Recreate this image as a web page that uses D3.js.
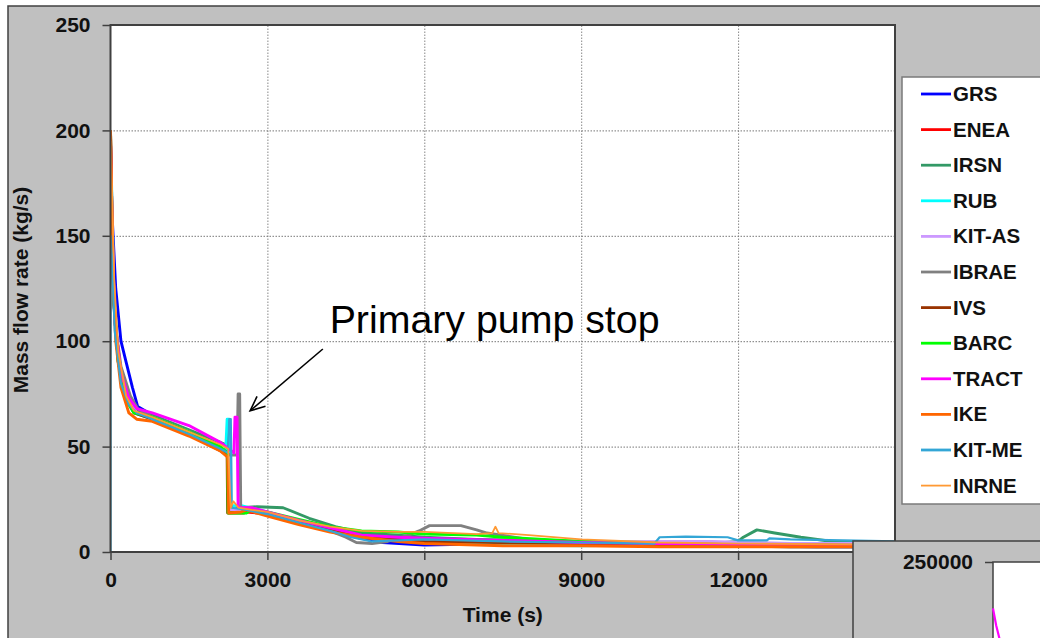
<!DOCTYPE html>
<html><head><meta charset="utf-8">
<script src="https://cdn.jsdelivr.net/npm/d3@7"></script>
<style>
body{margin:0;background:#fff}
svg{display:block}
text{font-family:"Liberation Sans",Arial,sans-serif}
</style>
</head><body>
<svg id="c" width="1040" height="638"></svg>
<script>
// ---------- data ----------
const seriesNames = ["GRS","ENEA","IRSN","RUB","KIT-AS","IBRAE","IVS","BARC","TRACT","IKE","KIT-ME","INRNE"];
const seriesColors = ["#0000ff","#ff0000","#339966","#00ffff","#cc99ff","#808080","#993300","#00ff00","#ff00ff","#ff6600","#33a6d6","#ff9933"];
const xTicks = [0,3000,6000,9000,12000];
const yTicks = [0,50,100,150,200,250];
const insetTick = [250000];

const GRS   = [[0,195],[30,160],[100,125],[200,100],[300,90],[420,78],[520,69],[800,65],[1500,57],[2100,49],[2260,46],[2290,20],[2600,20],[3000,18],[3600,14],[4200,11],[4700,7],[5200,4.5],[6000,3.3],[7500,4],[9000,3.5],[10500,3],[12000,3],[13500,2.5],[15000,2.5]];
const ENEA  = [[0,198],[20,170],[60,120],[150,90],[300,74],[450,67],[800,64],[1500,57],[2100,49],[2250,46],[2270,19],[2600,19],[3000,18],[3600,14],[4200,10.5],[4800,7],[5500,5.5],[6000,5.5],[7000,4],[9000,3.5],[10500,3],[12000,3],[15000,2.5]];
const IRSN  = [[0,190],[30,150],[80,110],[200,85],[350,72],[500,67],[800,65],[1500,58],[2100,52],[2200,51],[2230,46],[2240,62],[2260,62],[2280,20],[2500,21],[2800,21.5],[3300,21],[3800,16],[4300,12],[4800,9],[5500,8],[6000,7],[7000,6],[8000,5.5],[9000,5],[10500,4.5],[11500,4],[12000,5],[12100,7],[12360,10.5],[12700,9],[13200,7],[13800,5],[15000,4.5]];
const RUB   = [[0,200],[20,175],[60,125],[150,90],[300,72],[450,66],[800,63],[1500,56],[2100,49],[2200,47],[2230,63],[2270,63],[2290,22],[2500,22],[3000,19],[3600,14.5],[4200,11],[4700,8],[5500,6],[6000,5],[7500,3.3],[9000,3],[10500,3.5],[12000,4],[15000,4]];
const KITAS = [[0,195],[30,155],[80,110],[200,85],[350,72],[500,66],[800,64],[1500,57],[2100,49],[2260,46],[2290,20],[2600,20],[3000,18],[3600,14],[4200,11],[4800,7.5],[5500,6],[6000,5.5],[7500,5],[9000,4.5],[10500,5],[11500,5],[12000,4.7],[13000,4],[15000,4]];
const IBRAE = [[0,195],[30,150],[80,110],[200,88],[380,74],[520,68],[800,64],[1500,57],[2100,49],[2280,46],[2420,46],[2440,75],[2470,75],[2490,21],[2700,21],[3000,18.5],[3600,14],[4200,10],[4500,7],[4700,4.5],[5000,4],[5300,5],[5700,8],[5900,10],[6100,12.5],[6700,12.5],[7000,10.5],[7200,9],[8000,6],[9000,4.5],[10500,3.5],[12000,3],[13000,2.4],[15000,2.4]];
const IVS   = [[0,200],[20,170],[60,120],[150,90],[300,73],[450,66],[800,63],[1500,56],[2100,48],[2230,46],[2240,18.5],[2550,18.5],[2600,20],[3000,18],[3600,14],[4200,10.5],[4800,7.5],[5500,6],[6000,5],[7500,4.5],[9000,4],[10500,3.5],[12000,3.5],[15000,3]];
const BARC  = [[0,175],[20,160],[60,120],[150,90],[300,72],[450,66],[800,64],[1500,57],[2100,50],[2240,47],[2250,18.5],[2600,18.5],[2700,20],[3000,19],[3600,15.5],[4200,12],[4800,10],[5500,9.5],[6000,8.5],[7000,8],[7500,7],[9000,5],[10500,4],[12000,3.5],[15000,3]];
const TRACT = [[0,195],[30,155],[80,110],[200,85],[350,73],[500,68],[800,66],[1500,60],[2100,52],[2360,47],[2380,64],[2420,64],[2440,21],[2700,21],[3000,19],[3600,15],[4200,11.5],[4800,8],[5500,7],[6000,6.5],[7500,5.5],[9000,4.5],[10500,4],[12000,3.5],[15000,3]];
const IKE   = [[0,200],[10,190],[40,140],[100,100],[200,78],[350,66],[500,63],[800,62],[1500,55],[2100,48],[2240,45],[2260,18.5],[2500,19],[2600,20],[3000,17],[3600,13],[4200,9.5],[4800,7],[5500,5],[6000,4],[7500,3],[9000,3],[10500,2.5],[12000,2.5],[15000,2.5]];
const KITME = [[0,0],[0,150],[30,140],[80,105],[200,80],[350,70],[500,66],[800,63],[1500,56],[2100,49],[2250,47],[2270,63],[2300,63],[2320,21],[2600,20],[3000,18],[3600,14],[4200,10],[4600,7],[5000,5],[6000,6],[7500,5],[9000,4.5],[10400,4],[10500,7],[11000,7.3],[11800,7],[12000,5.5],[12550,5.5],[12600,6.5],[13000,6],[15000,5]];
const INRNE = [[0,195],[30,170],[70,130],[150,95],[300,74],[450,67],[800,64],[1500,57],[2100,51],[2250,49],[2280,30],[2300,21],[2350,24],[2450,21],[2700,20],[3000,19],[3600,15],[4200,12],[4800,10],[5500,9.5],[6000,9.5],[7000,8.5],[7300,9],[7360,12],[7420,9],[8000,8],[9000,6],[10500,4.5],[12000,4],[15000,3.5]];
const seriesData = [GRS,ENEA,IRSN,RUB,KITAS,IBRAE,IVS,BARC,TRACT,IKE,KITME,INRNE];

// inset (second chart, mostly off-page)
const insetTRACT = [[0,228000],[60,220000],[140,212000]];
const insetIKE   = [[0,214000],[40,210000]];

// ---------- drawing ----------
const svg = d3.select("#c");
const L = 110.5, R = 895, T = 25, B = 552;
const x = d3.scaleLinear().domain([0,15000]).range([L,R]);
const y = d3.scaleLinear().domain([0,250]).range([B,T]);

// outer frame
svg.append("rect").attr("x",8).attr("y",6).attr("width",1040).attr("height",640)
  .attr("fill","#c0c0c0").attr("stroke","#404040").attr("stroke-width",1.5);

// plot area
svg.append("rect").attr("x",L).attr("y",T).attr("width",R-L).attr("height",B-T).attr("fill","#fff");

// gridlines
svg.append("g").attr("transform",`translate(0,${B})`)
  .call(d3.axisBottom(x).tickValues(xTicks.filter(d=>d>0)).tickSize(-(B-T)).tickFormat(""))
  .call(g=>g.select(".domain").remove())
  .call(g=>g.selectAll("line").attr("stroke","#888").attr("stroke-dasharray","1.5,1.5"));
svg.append("g").attr("transform",`translate(${L},0)`)
  .call(d3.axisLeft(y).tickValues(yTicks.filter(d=>d>0 && d<250)).tickSize(-(R-L)).tickFormat(""))
  .call(g=>g.select(".domain").remove())
  .call(g=>g.selectAll("line").attr("stroke","#777").attr("stroke-dasharray","1.5,1.5"));

// lines
svg.append("clipPath").attr("id","clip").append("rect").attr("x",L).attr("y",T).attr("width",R-L).attr("height",B-T);
const line = d3.line().x(d=>x(d[0])).y(d=>y(d[1]));
const lg = svg.append("g").attr("clip-path","url(#clip)");
seriesData.forEach((s,i)=>{
  lg.append("path").datum(s).attr("d",line).attr("fill","none")
    .attr("stroke",seriesColors[i])
    .attr("stroke-width", seriesNames[i]==="INRNE"?1.8:(seriesNames[i]==="KIT-ME"?2.2:2.9))
    .attr("stroke-linejoin","round");
});

// plot border
svg.append("rect").attr("x",L).attr("y",T).attr("width",R-L).attr("height",B-T)
  .attr("fill","none").attr("stroke","#404040").attr("stroke-width",2);

// axes
const ax = svg.append("g").attr("transform",`translate(0,${B})`)
  .call(d3.axisBottom(x).tickValues(xTicks).tickSize(8).tickPadding(12).tickFormat(d3.format("d")));
const ay = svg.append("g").attr("transform",`translate(${L},0)`)
  .call(d3.axisLeft(y).tickValues(yTicks).tickSize(8).tickPadding(12).tickFormat(d3.format("d")));
[ax,ay].forEach(a=>{
  a.select(".domain").remove();
  a.selectAll("line").attr("stroke","#404040").attr("stroke-width",1.5);
  a.selectAll("text").attr("font-family","'Liberation Sans',Arial,sans-serif")
    .attr("font-size",21).attr("font-weight","bold").attr("fill","#111");
});

// axis titles
svg.append("text").attr("x",(L+R)/2).attr("y",622).attr("text-anchor","middle")
  .attr("font-size",21).attr("font-weight","bold").attr("fill","#111").text("Time (s)");
svg.append("text").attr("transform","translate(28,290) rotate(-90)").attr("text-anchor","middle")
  .attr("font-size",21).attr("font-weight","bold").attr("fill","#111").text("Mass flow rate (kg/s)");

// legend
const lgX = 902, lgY = 77;
svg.append("rect").attr("x",lgX).attr("y",lgY).attr("width",160).attr("height",427)
  .attr("fill","#fff").attr("stroke","#7a7a7a").attr("stroke-width",1.5);
seriesNames.forEach((n,i)=>{
  const yy = 94 + i*35.6;
  svg.append("line").attr("x1",921).attr("x2",951).attr("y1",yy).attr("y2",yy)
    .attr("stroke",seriesColors[i]).attr("stroke-width", n==="INRNE"?1.8:2.8);
  svg.append("text").attr("x",953).attr("y",yy+7).attr("font-size",20.5).attr("font-weight","bold")
    .attr("fill","#111").text(n);
});

// inset chart (partially visible)
const iL = 993, iT = 562;
const ix = d3.scaleLinear().domain([0,15000]).range([iL, iL+785]);
const iy = d3.scaleLinear().domain([0,250000]).range([iT+527, iT]);
svg.append("rect").attr("x",853).attr("y",541).attr("width",200).attr("height",110)
  .attr("fill","#c0c0c0").attr("stroke","#404040").attr("stroke-width",1.5);
svg.append("rect").attr("x",iL).attr("y",iT).attr("width",100).attr("height",100).attr("fill","#fff")
  .attr("stroke","#404040").attr("stroke-width",1.5);
const iax = svg.append("g").attr("transform",`translate(${iL},0)`)
  .call(d3.axisLeft(iy).tickValues(insetTick).tickSize(8).tickPadding(12).tickFormat(d3.format("d")));
iax.select(".domain").remove();
iax.selectAll("line").attr("stroke","#404040").attr("stroke-width",1.5);
iax.selectAll("text").attr("font-size",21).attr("font-weight","bold").attr("fill","#111");
const iline = d3.line().x(d=>ix(d[0])).y(d=>iy(d[1]));
svg.append("path").datum(insetIKE).attr("d",iline).attr("fill","none").attr("stroke","#ff9933").attr("stroke-width",2);
svg.append("path").datum(insetTRACT).attr("d",iline).attr("fill","none").attr("stroke","#ff00ff").attr("stroke-width",2.2);

// annotation
const tip = [2670, 67], tail = [4060, 96.3];
const ann = svg.append("text").attr("x",x(4190)).attr("y",y(103.9))
  .attr("font-family","'Open Sans',Lato,sans-serif").attr("font-size",32).attr("fill","#000")
  .text("Primary pump stop");
const w = ann.node().getComputedTextLength();
ann.attr("font-size", 32*330/w);
const x1 = x(tail[0]), y1 = y(tail[1]), x2 = x(tip[0]), y2 = y(tip[1]);
svg.append("line").attr("x1",x1).attr("y1",y1).attr("x2",x2).attr("y2",y2).attr("stroke","#000").attr("stroke-width",1.6);
const ang = Math.atan2(y1-y2, x1-x2), hl = 16, ha = 0.42;
svg.append("path").attr("d",
  `M${x2+hl*Math.cos(ang+ha)},${y2+hl*Math.sin(ang+ha)} L${x2},${y2} L${x2+hl*Math.cos(ang-ha)},${y2+hl*Math.sin(ang-ha)}`)
  .attr("fill","none").attr("stroke","#000").attr("stroke-width",1.6);
</script>
</body></html>
